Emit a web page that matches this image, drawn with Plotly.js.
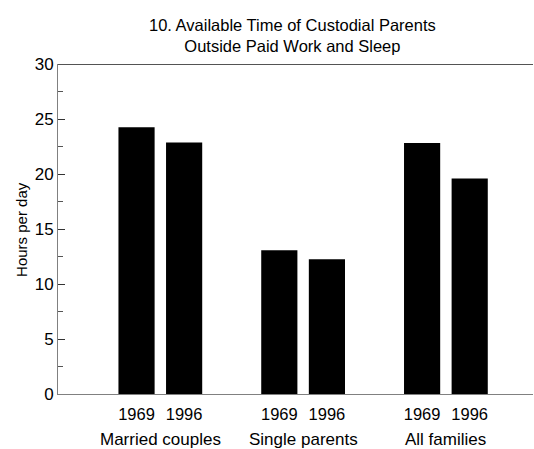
<!DOCTYPE html>
<html>
<head>
<meta charset="utf-8">
<script src="https://cdn.plot.ly/plotly-3.0.1.min.js"></script>
<style>html,body{margin:0;padding:0;background:#fff;}#chart{width:534px;height:449px;}</style>
</head>
<body>
<div id="chart"></div>
<script>
const groups = ["Married couples", "Single parents", "All families"];
const years = ["1969", "1996"];
const values1969 = [24.25, 13.07, 22.81];
const values1996 = [22.87, 12.25, 19.59];
const yTicks = [0, 5, 10, 15, 20, 25, 30];
const titleText = '10. Available Time of Custodial Parents<br>Outside Paid Work and Sleep';

const series = [values1969, values1996];
const xs = [], ys = [], tickvals = [], ticktext = [];
groups.forEach((g, gi) => {
  years.forEach((yr, yi) => {
    const pos = gi * 3 + yi;
    xs.push(pos);
    ys.push(series[yi][gi]);
    tickvals.push(pos);
    ticktext.push(yr);
  });
});

const FONT = "Liberation Sans, Arial, sans-serif";

const annotations = groups.map((g, gi) => ({
  text: g, x: gi * 3 + 0.5, xref: 'x', y: -0.137, yref: 'paper',
  xanchor: 'center', yanchor: 'middle', showarrow: false,
  font: {family: FONT, size: 17, color: '#000'}
}));
annotations.push({
  text: 'Hours per day', textangle: -90, x: -0.078, xref: 'paper',
  y: 0.5, yref: 'paper', xanchor: 'center', yanchor: 'middle', showarrow: false,
  font: {family: FONT, size: 15, color: '#000'}
});
annotations.push({
  text: titleText, x: 0.493, xref: 'paper', y: 1.02, yref: 'paper',
  xanchor: 'center', yanchor: 'bottom', showarrow: false, align: 'center',
  font: {family: FONT, size: 16.5, color: '#000'}
});

const data = [{
  type: 'bar', x: xs, y: ys, width: 0.76,
  marker: {color: '#000', line: {width: 0}},
  hoverinfo: 'skip'
}];

const layout = {
  width: 534, height: 449,
  margin: {l: 58, r: 1, t: 64, b: 55},
  paper_bgcolor: '#fff', plot_bgcolor: '#fff',
  showlegend: false,
  font: {family: FONT, color: '#000'},
  xaxis: {
    range: [-1.65, 8.33], tickvals: tickvals, ticktext: ticktext,
    ticks: '', showgrid: false, zeroline: false, ticklabelstandoff: 5,
    showline: true, linecolor: '#808080', linewidth: 1,
    tickfont: {family: FONT, size: 16.5, color: '#000'},
    fixedrange: true
  },
  yaxis: {
    range: [0, 30], tickvals: yTicks, ticks: 'inside', ticklen: 7,
    tickcolor: '#333', tickwidth: 1,
    minor: {dtick: 2.5, ticks: 'inside', ticklen: 5, tickcolor: '#555', showgrid: false},
    showgrid: false, zeroline: false,
    showline: true, linecolor: '#808080', linewidth: 1,
    tickfont: {family: FONT, size: 17, color: '#000'},
    fixedrange: true
  },
  shapes: [{
    type: 'line', xref: 'paper', x0: 0, x1: 1, yref: 'y', y0: 30, y1: 30,
    line: {color: '#1a1a1a', width: 1.5}
  }],
  annotations: annotations
};

Plotly.newPlot('chart', data, layout, {displayModeBar: false, staticPlot: true});
</script>
</body>
</html>
